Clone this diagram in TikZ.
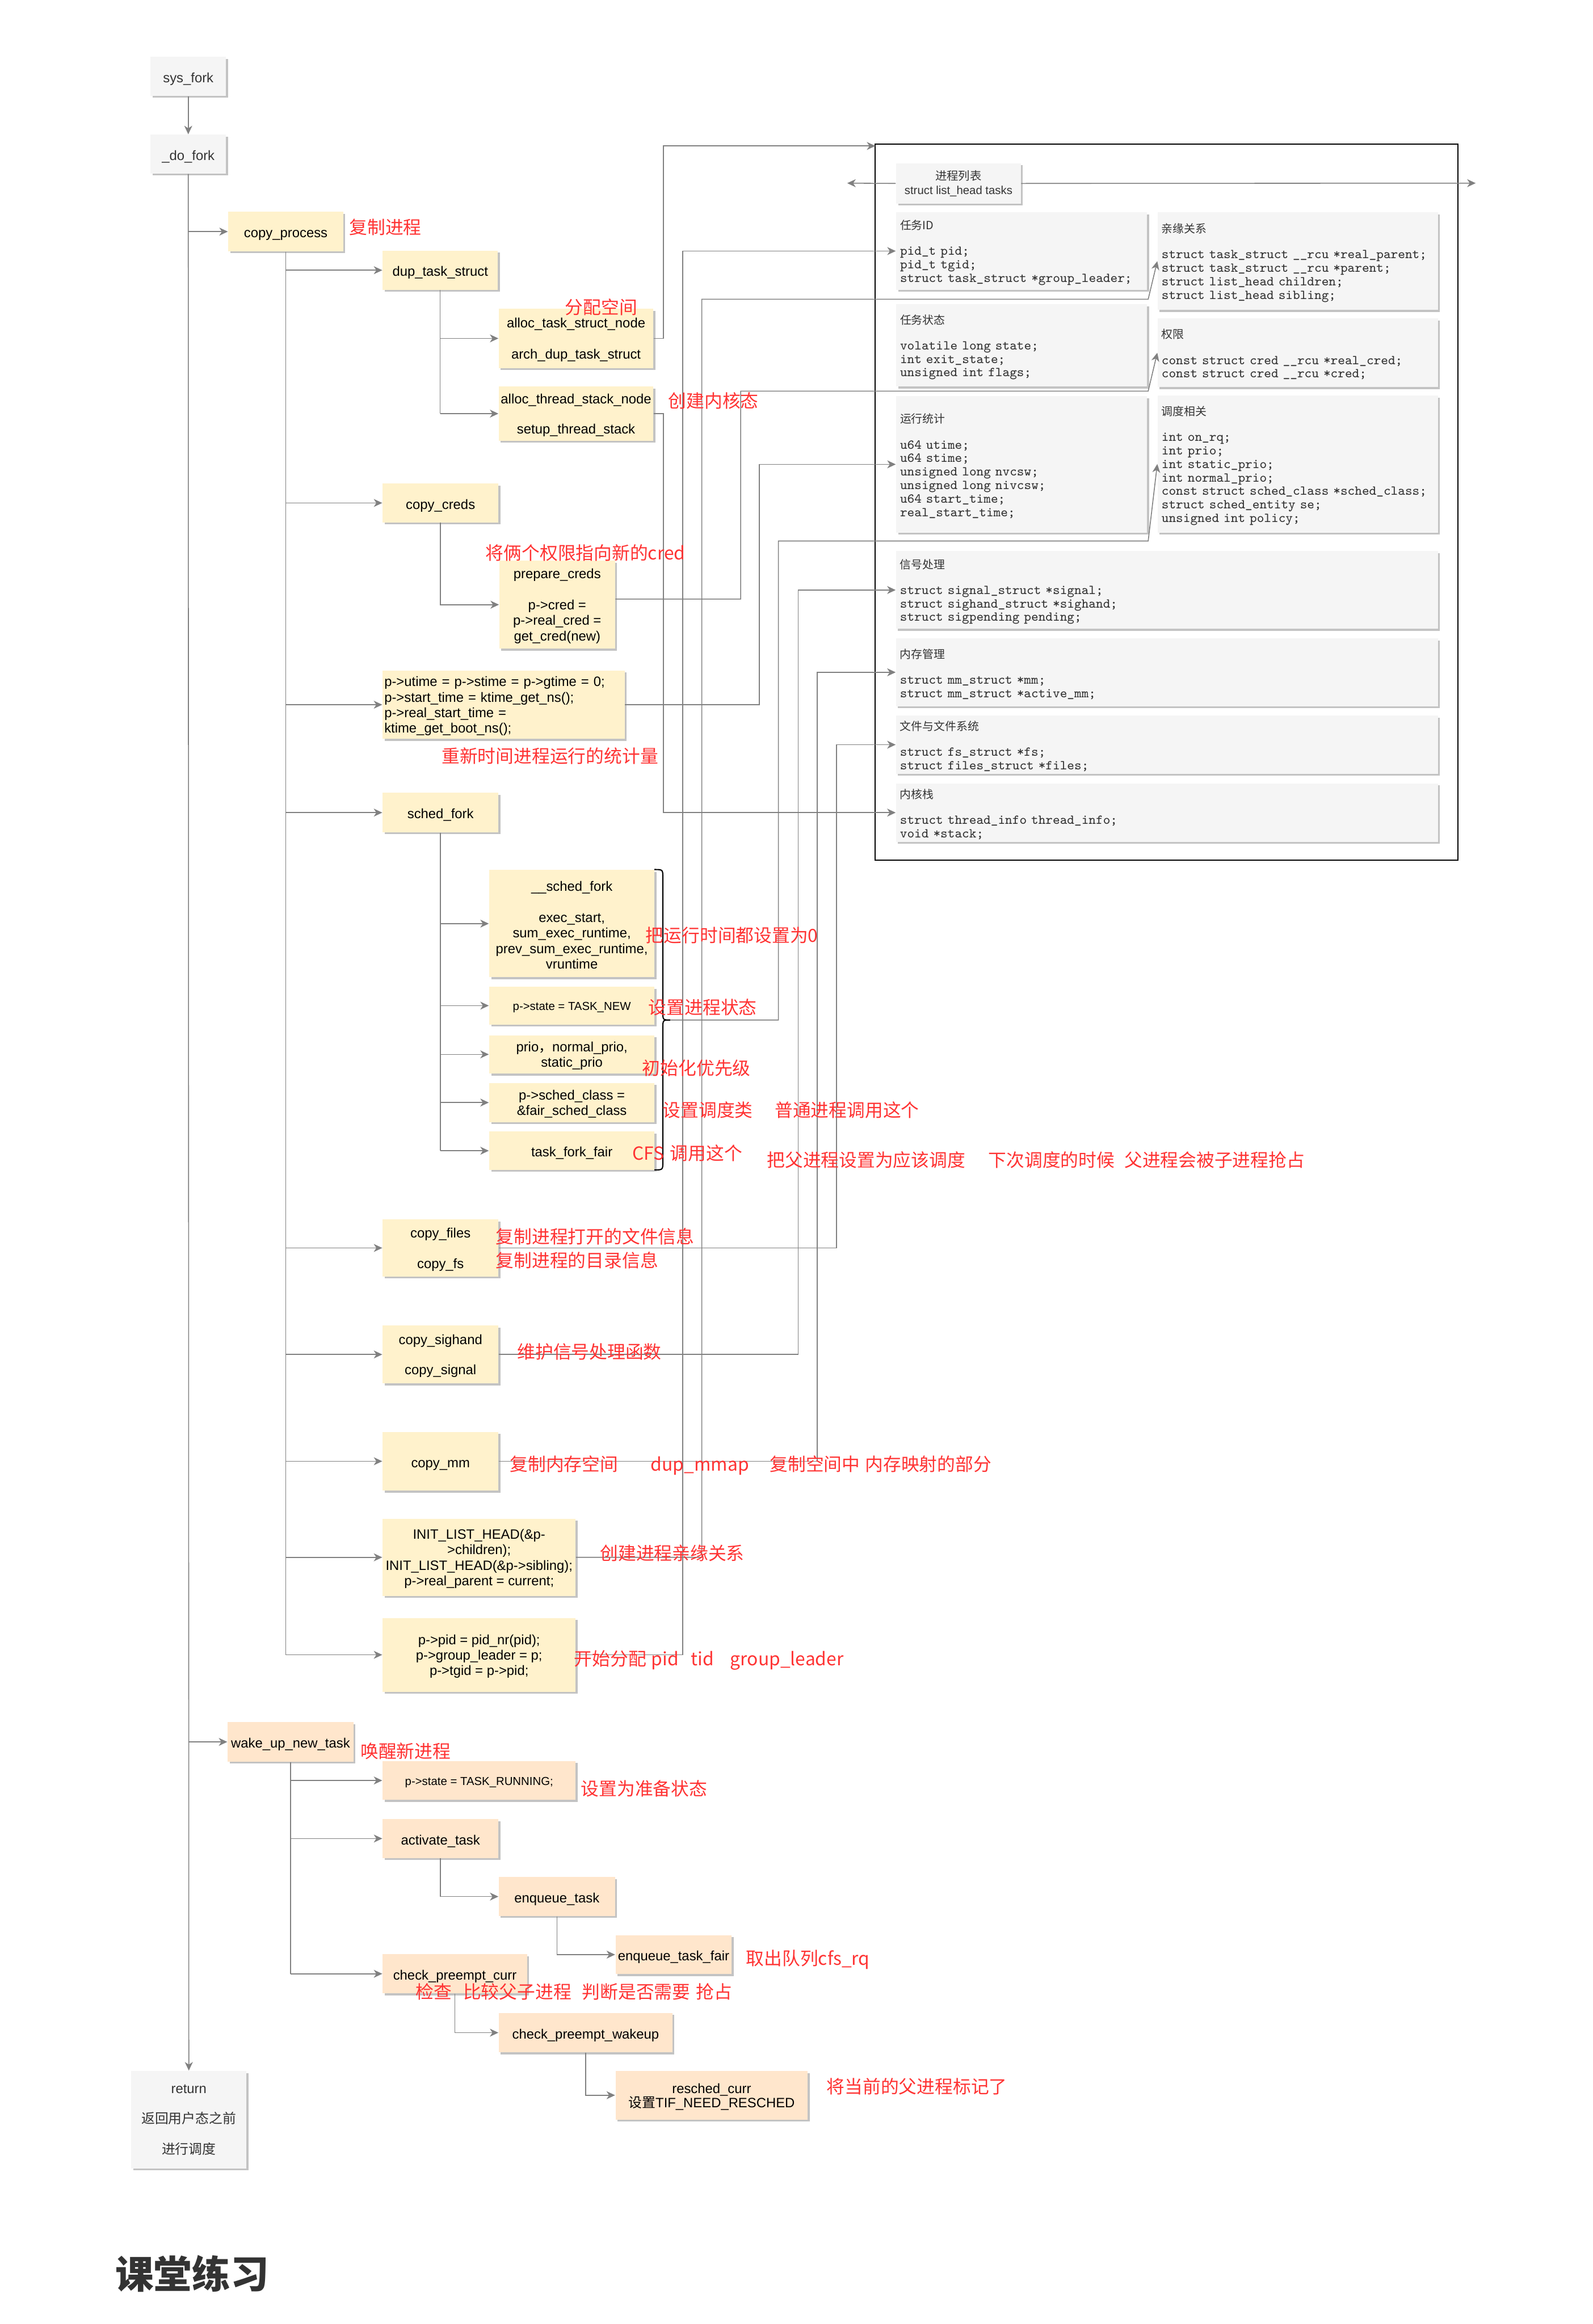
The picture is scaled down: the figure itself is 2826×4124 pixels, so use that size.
\documentclass[tikz,border=0pt]{standalone}
\usepackage{fontspec}
\setmainfont{Liberation Sans}
\newfontfamily\cjk{Noto Sans CJK SC}
\usetikzlibrary{arrows.meta,shadows}

\definecolor{linegray}{HTML}{808080}
\definecolor{notered}{HTML}{FF3333}
\definecolor{boxyellow}{HTML}{FFF2CC}
\definecolor{boxpeach}{HTML}{FFE6CC}
\definecolor{boxgray}{HTML}{F5F5F5}
\definecolor{shadowgray}{HTML}{C3C3C3}
\definecolor{darktext}{HTML}{333333}

% box from corner (x1,y1) to (x2,y2), in pixel units
\newcommand\bx[7]{%
  \pgfmathsetmacro\bxw{(#5-#3)/100}%
  \pgfmathsetmacro\bxh{(#6-#4)/100}%
  \node[#1, minimum width=\bxw cm, minimum height=\bxh cm] (#2) at ({(#3+#5)/2},{(#4+#6)/2}) {#7};}
% same, with a fixed text width and side padding #7
\newcommand\tbx[8]{%
  \pgfmathsetmacro\bxw{(#5-#3)/100}%
  \pgfmathsetmacro\bxh{(#6-#4)/100}%
  \pgfmathsetmacro\bxt{(#5-#3-2*#7)/100}%
  \pgfmathsetmacro\bxp{#7/100}%
  \node[#1, inner xsep=\bxp cm, minimum width=\bxw cm, minimum height=\bxh cm, text width=\bxt cm] (#2) at ({(#3+#5)/2},{(#4+#6)/2}) {#8};}
% struts that set the first line a little lower in its box
\newcommand\sk{\rule{0pt}{7.5pt}}
\newcommand\mk{\rule{0pt}{6.5pt}}
\newcommand\tk{\rule{0pt}{5.8pt}}
% heading line of a task_struct field group
\newcommand\hd[1]{{\cjk\fontsize{5.69}{6.83}\selectfont\rule{0pt}{6.5pt}#1}\\[6.1pt]}

\begin{document}
\begin{tikzpicture}[x=0.01cm, y=-0.01cm,
  shadowed/.style={drop shadow={shadow xshift=0.035cm, shadow yshift=-0.035cm, fill=shadowgray, opacity=1}},
  base/.style={rectangle, inner sep=0pt, align=center, shadowed, font=\fontsize{6.83}{7.82}\selectfont},
  graybox/.style={base, fill=boxgray, text=darktext},
  yelbox/.style={base, fill=boxyellow, text=black},
  peachbox/.style={base, fill=boxpeach, text=black},
  structbox/.style={graybox, align=left, font=\fontsize{6.83}{6.83}\selectfont\ttfamily},
  smalltext/.style={font=\fontsize{5.83}{7.11}\selectfont},
  framebox/.style={rectangle, draw=black, line width=0.7pt, inner sep=0pt},
  trunk/.style={draw=linegray, line width=0.45pt},
  conn/.style={trunk, -{Stealth[length=4.3pt, width=4pt, inset=1.3pt]}},
  note/.style={anchor=west, inner sep=0pt, text=notered, font=\cjk\fontsize{9.1}{9.1}\selectfont},
  brace/.style={draw=black, line width=0.6pt}
]
\fill[white] (0,0) rectangle (2826,4124);
\useasboundingbox (0,0) rectangle (2826,4124);

% ---------- task_struct ----------
\bx{framebox}{frame}{1553}{256}{2586}{1526}{}
\bx{graybox,smalltext}{tasks}{1590}{290}{1811}{361}{{\cjk 进程列表}\\struct list\_head tasks}
\tbx{structbox}{taskid}{1590}{377}{2035}{514}{7}{\hd{任务ID}pid\_t pid;\\pid\_t tgid;\\struct task\_struct *group\_leader;}
\tbx{structbox}{kin}{2054}{377}{2551}{550}{7}{\hd{亲缘关系}struct task\_struct \_\_rcu *real\_parent;\\struct task\_struct \_\_rcu *parent;\\struct list\_head children;\\struct list\_head sibling;}
\tbx{structbox}{state}{1590}{540}{2035}{686}{7}{\hd{任务状态}volatile long state;\\int exit\_state;\\unsigned int flags;}
\tbx{structbox}{cred}{2054}{565}{2551}{687}{7}{\hd{权限}const struct cred \_\_rcu *real\_cred;\\const struct cred \_\_rcu *cred;}
\tbx{structbox}{runstat}{1590}{703}{2035}{945}{7}{\hd{运行统计}u64 utime;\\u64 stime;\\unsigned long nvcsw;\\unsigned long nivcsw;\\u64 start\_time;\\real\_start\_time;}
\tbx{structbox}{sched}{2054}{702}{2551}{945}{7}{\hd{调度相关}int on\_rq;\\int prio;\\int static\_prio;\\int normal\_prio;\\const struct sched\_class *sched\_class;\\struct sched\_entity se;\\unsigned int policy;}
\tbx{structbox}{signal}{1590}{978}{2551}{1116}{7}{\hd{信号处理}struct signal\_struct *signal;\\struct sighand\_struct *sighand;\\struct sigpending pending;}
\tbx{structbox}{mem}{1590}{1133}{2551}{1253}{7}{\hd{内存管理}struct mm\_struct *mm;\\struct mm\_struct *active\_mm;}
\tbx{structbox}{fs}{1590}{1270}{2551}{1373}{7}{\hd{文件与文件系统}struct fs\_struct *fs;\\struct files\_struct *files;}
\tbx{structbox}{kstack}{1590}{1390}{2551}{1494}{7}{\hd{内核栈}struct thread\_info thread\_info;\\void *stack;}

% ---------- fork call chain ----------
\bx{graybox}{sysfork}{267}{101}{401}{170}{\sk sys\_fork}
\bx{graybox}{dofork}{267}{239}{401}{308}{\sk\_do\_fork}
\bx{yelbox}{copyproc}{405}{376}{609}{446}{\sk copy\_process}
\bx{yelbox}{duptask}{679}{445}{883}{514}{\sk dup\_task\_struct}
\bx{yelbox}{alloctask}{885}{548}{1159}{653}{\mk alloc\_task\_struct\_node\\[7.82pt]arch\_dup\_task\_struct}
\bx{yelbox}{allocstack}{885}{686}{1159}{782}{\mk alloc\_thread\_stack\_node\\[7.3pt]setup\_thread\_stack}
\bx{yelbox}{copycreds}{679}{858}{884}{927}{\sk copy\_creds}
\bx{yelbox}{preparecreds}{886}{995}{1091}{1151}{\mk prepare\_creds\\[7.82pt]p->cred =\\p->real\_cred =\\get\_cred(new)}
\tbx{yelbox,align=left}{utime}{679}{1190}{1108}{1311}{3}{\mk p->utime = p->stime = p->gtime = 0;\\p->start\_time = ktime\_get\_ns();\\p->real\_start\_time =\\ktime\_get\_boot\_ns();}
\bx{yelbox}{schedfork}{679}{1407}{884}{1477}{\sk sched\_fork}
\bx{yelbox}{schedcore}{868}{1544}{1161}{1734}{\mk\_\_sched\_fork\\[7.82pt]exec\_start,\\sum\_exec\_runtime,\\prev\_sum\_exec\_runtime,\\vruntime}
\bx{yelbox,smalltext}{tasknew}{868}{1751}{1161}{1818}{\tk p->state = TASK\_NEW}
\bx{yelbox}{prio}{868}{1837}{1161}{1905}{\mk prio{\cjk ，}normal\_prio,\\static\_prio}
\bx{yelbox}{schedclass}{868}{1922}{1161}{1991}{\mk p->sched\_class =\\\&fair\_sched\_class}
\bx{yelbox}{forkfair}{868}{2008}{1161}{2076}{\sk task\_fork\_fair}
\bx{yelbox}{copyfiles}{679}{2164}{884}{2265}{\mk copy\_files\\[7.82pt]copy\_fs}
\bx{yelbox}{sighand}{679}{2352}{884}{2455}{\mk copy\_sighand\\[7.5pt]copy\_signal}
\bx{yelbox}{copymm}{679}{2541}{884}{2645}{\sk copy\_mm}
\bx{yelbox}{initlist}{679}{2695}{1021}{2832}{\mk INIT\_LIST\_HEAD(\&p-\\>children);\\INIT\_LIST\_HEAD(\&p->sibling);\\p->real\_parent = current;}
\bx{yelbox}{ppid}{679}{2871}{1021}{3002}{\mk p->pid = pid\_nr(pid);\\p->group\_leader = p;\\p->tgid = p->pid;}

\bx{peachbox}{wakeup}{404}{3056}{627}{3126}{\sk wake\_up\_new\_task}
\bx{peachbox,smalltext}{running}{679}{3125}{1021}{3194}{\tk p->state = TASK\_RUNNING;}
\bx{peachbox}{activate}{679}{3228}{884}{3297}{\sk activate\_task}
\bx{peachbox}{enqueue}{885}{3331}{1091}{3400}{\sk enqueue\_task}
\bx{peachbox}{enqfair}{1092}{3434}{1298}{3503}{\sk enqueue\_task\_fair}
\bx{peachbox}{checkcurr}{679}{3468}{935}{3537}{\sk check\_preempt\_curr}
\bx{peachbox}{checkwake}{885}{3572}{1193}{3642}{\sk check\_preempt\_wakeup}
\bx{peachbox}{resched}{1092}{3675}{1433}{3761}{\mk resched\_curr\\[-0.7pt]{\cjk 设置}TIF\_NEED\_RESCHED}
\bx{graybox}{ret}{233}{3675}{437}{3848}{return\\[7.54pt]{\cjk 返回用户态之前}\\[7.54pt]{\cjk 进行调度}}

% brace grouping the sched_fork steps
\draw[brace] (1161,1543) .. controls (1176,1543) .. (1176,1558) -- (1176,1796)
  .. controls (1176,1810) .. (1189,1810) .. controls (1176,1810) .. (1176,1824)
  -- (1176,2061) .. controls (1176,2076) .. (1161,2076);
\coordinate (bracetip) at (1189,1810);
\coordinate (frameIn) at (1553,259);
\coordinate (tasksL) at (1503,325);
\coordinate (tasksR) at (2618,325);

% ---------- call tree ----------
\draw[conn] (sysfork.south) -- (dofork.north);
\draw[conn] (dofork.south) -- (ret.north);
\foreach \nd in {copyproc,wakeup} \draw[conn] (dofork.south |- \nd.west) -- (\nd.west);

\draw[trunk] (copyproc.south) -- (copyproc.south |- ppid.west);
\foreach \nd in {duptask,copycreds,utime,schedfork,copyfiles,sighand,copymm,initlist,ppid}
  \draw[conn] (copyproc.south |- \nd.west) -- (\nd.west);

\draw[trunk] (duptask.south) -- (duptask.south |- allocstack.west);
\foreach \nd in {alloctask,allocstack} \draw[conn] (duptask.south |- \nd.west) -- (\nd.west);
\draw[conn] (copycreds.south) |- (preparecreds.west);

\draw[trunk] (schedfork.south) -- (schedfork.south |- forkfair.west);
\foreach \nd in {schedcore,tasknew,prio,schedclass,forkfair}
  \draw[conn] (schedfork.south |- \nd.west) -- (\nd.west);

\draw[trunk] (wakeup.south) -- (wakeup.south |- checkcurr.west);
\foreach \nd in {running,activate,checkcurr} \draw[conn] (wakeup.south |- \nd.west) -- (\nd.west);
\draw[conn] (activate.south) |- (enqueue.west);
\draw[conn] (enqueue.south) |- (enqfair.west);
\draw[conn] (checkcurr.south) |- (checkwake.west);
\draw[conn] (checkwake.south) |- (resched.west);

% ---------- links into task_struct ----------
\draw[conn] (alloctask.east) -| (1177,259) -- (frameIn);
\draw[conn] (allocstack.east) -- (allocstack.east -| 1177,0) |- (kstack.west);
\draw[conn] (ppid.east) -- (ppid.east -| 1211,0) |- (taskid.west);
\draw[conn] (initlist.east) -- (initlist.east -| 1245,0) |- (2037,531) -- (kin.west);
\draw[conn] ([yshift=0.1cm]preparecreds.east) -| (1314,694) -- (2037,694) -- (cred.west);
\draw[conn] (utime.east) -- (utime.east -| 1347,0) |- (runstat.west);
\draw[conn] (bracetip) -| (1381,960) -- (2037,960) -- (sched.west);
\draw[conn] (sighand.east) -- (sighand.east -| 1416,0) |- (signal.west);
\draw[conn] (copymm.east) -- (copymm.east -| 1450,0) |- (mem.west);
\draw[conn] (copyfiles.east) -- (copyfiles.east -| 1484,0) |- (fs.west);
\draw[conn] (tasks.west) -- (tasksL);
\draw[conn] (tasks.east) -- (tasksR);

% ---------- notes ----------
\node[note] (n1) at (619,403) {复制进程};
\node[note] (n2) at (1002,545) {分配空间};
\node[note] (n3) at (1185,711) {创建内核态};
\node[note] (n4) at (861,981) {将俩个权限指向新的cred};
\node[note] (n5) at (783,1342) {重新时间进程运行的统计量};
\node[note] (n6) at (1145,1660) {把运行时间都设置为0};
\node[note] (n7) at (1150,1788) {设置进程状态};
\node[note] (n8) at (1139,1895) {初始化优先级};
\node[note] (n9) at (1175,1970) {设置调度类\hspace{0.39cm}普通进程调用这个};
\node[note] (n10) at (1121,2046) {\makebox[0.67cm][l]{CFS}调用这个};
\node[note] (n11) at (1360,2058) {把父进程设置为应该调度\hspace{0.41cm}下次调度的时候\hspace{0.17cm}父进程会被子进程抢占};
\node[note] (n12) at (879,2194) {复制进程打开的文件信息};
\node[note] (n13) at (879,2236) {复制进程的目录信息};
\node[note] (n14) at (917,2399) {维护信号处理函数};
\node[note] (n15) at (904,2600) {复制内存空间\hspace{0.58cm}\makebox[1.72cm][l]{dup\_mmap}\hspace{0.39cm}复制空间中\hspace{0.09cm}内存映射的部分};
\node[note] (n16) at (1064,2756) {创建进程亲缘关系};
\node[note] (n17) at (1018,2946) {开始分配\hspace{0.09cm}\makebox[0.70cm][l]{pid}\makebox[0.70cm][l]{tid}group\_leader};
\node[note] (n18) at (639,3107) {唤醒新进程};
\node[note] (n19) at (1030,3174) {设置为准备状态};
\node[note] (n20) at (1323,3477) {取出队列cfs\_rq};
\node[note] (n21) at (737,3534) {检查\hspace{0.20cm}比较父子进程\hspace{0.19cm}判断是否需要\hspace{0.10cm}抢占};
\node[note] (n22) at (1466,3702) {将当前的父进程标记了};

\node[anchor=west, inner sep=0pt, text=darktext, font=\cjk\bfseries\fontsize{19.35}{19.35}\selectfont] (exercise) at (204,4035) {课堂练习};
\end{tikzpicture}
\end{document}
